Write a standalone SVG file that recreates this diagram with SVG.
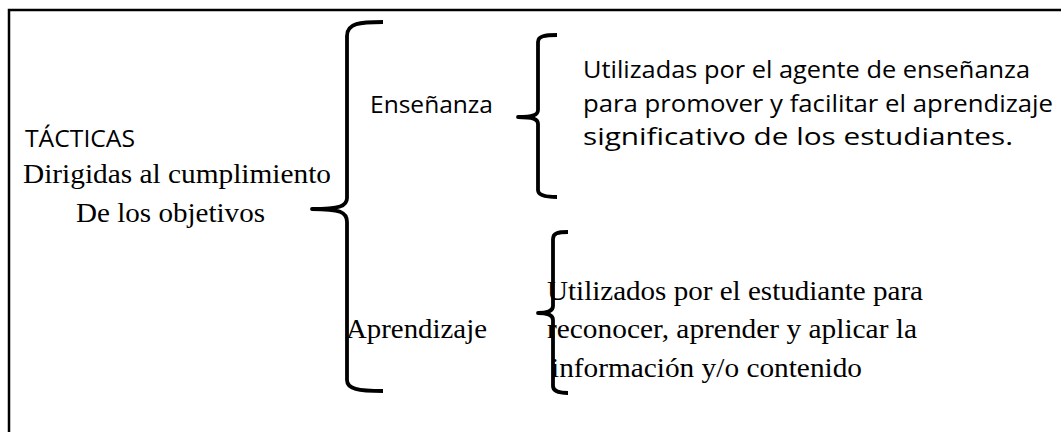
<svg xmlns="http://www.w3.org/2000/svg" width="1061" height="432" viewBox="0 0 1061 432">
<style>
.sans{font-family:"Open Sans","Liberation Sans",sans-serif;font-size:23px;fill:#000}
.serif{font-family:"Liberation Serif","Times New Roman",serif;font-size:26.5px;fill:#000}
.brace{fill:none;stroke:#000;stroke-width:3.8;stroke-linecap:butt;stroke-linejoin:round}
.frame{fill:none;stroke:#000;stroke-width:2.5}
</style>
<rect width="1061" height="432" fill="#fff"/>
<path class="frame" d="M9,432 L9,10 L1061,10"/>
<g id="connectors">
<path class="brace" d="M383,22 C360,22 347,23 347,36 L347,198 C347,206 340,209 312,209 C340,209 347,212 347,222 L347,380 C347,389 358,391 383,391"/>
<path class="brace" d="M557,35 C545,35 538,36 538,42 L538,110 C538,115 533,117 518,117 C533,117 538,119 538,124 L538,190 C538,195 545,197 557,197"/>
<path class="brace" d="M568,232 C558,232 553,233 553,239 L553,306 C553,311 548,313 538,313 C548,313 553,315 553,320 L553,386 C553,391 558,393 568,393"/>
</g>
<g id="tacticas">
<text class="sans" x="25" y="147" textLength="110" lengthAdjust="spacingAndGlyphs">TÁCTICAS</text>
<text class="serif" x="23" y="183" textLength="308" lengthAdjust="spacingAndGlyphs">Dirigidas al cumplimiento</text>
<text class="serif" x="76" y="222" textLength="189" lengthAdjust="spacingAndGlyphs">De los objetivos</text>
</g>
<g id="ensenanza">
<text class="sans" x="370" y="113" textLength="123" lengthAdjust="spacingAndGlyphs">Enseñanza</text>
</g>
<g id="ensenanza-desc">
<text class="sans" x="583" y="78" textLength="447" lengthAdjust="spacingAndGlyphs">Utilizadas por el agente de enseñanza</text>
<text class="sans" x="583" y="112" textLength="470" lengthAdjust="spacingAndGlyphs">para promover y facilitar el aprendizaje</text>
<text class="sans" x="583" y="145" textLength="430" lengthAdjust="spacingAndGlyphs">significativo de los estudiantes.</text>
</g>
<g id="aprendizaje">
<text class="serif" x="346" y="338" textLength="141" lengthAdjust="spacingAndGlyphs">Aprendizaje</text>
</g>
<g id="aprendizaje-desc">
<text class="serif" x="547" y="300" textLength="376" lengthAdjust="spacingAndGlyphs">Utilizados por el estudiante para</text>
<text class="serif" x="547" y="338" textLength="370" lengthAdjust="spacingAndGlyphs">reconocer, aprender y aplicar la</text>
<text class="serif" x="551" y="377" textLength="311" lengthAdjust="spacingAndGlyphs">información y/o contenido</text>
</g>
</svg>
